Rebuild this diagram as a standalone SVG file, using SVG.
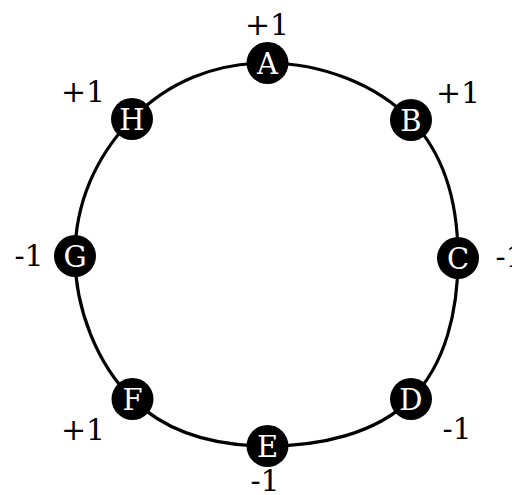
<svg xmlns="http://www.w3.org/2000/svg" width="512" height="495" viewBox="0 0 512 495">
<style>
.ring{fill:none;stroke:#000;stroke-width:3.2}
.node circle{fill:#000}
.node text{fill:#fff;font-family:"DejaVu Serif",serif;font-size:29px;text-anchor:middle}
.lbl{fill:#000;font-family:"DejaVu Serif",serif;font-size:30px;text-anchor:middle}
</style>
<rect width="512" height="495" fill="#fff"/>
<g id="connectors">
<path class="ring" d="M267.5,63 C321,63.2 376,84 411,120 C446,156 458,206 458,258 C458,310 446,364 411,399 C376,434 320,446 267.5,446 C215,446 168,434 132.5,399 C97,364 75.1,308.5 75,256 C74.9,203.5 96,156 132,119 C168,82 215,62.8 267.5,63 Z"/>
</g>
<g id="A" class="node"><circle cx="267.5" cy="63" r="21"/><text x="267.5" y="74">A</text></g>
<g id="B" class="node"><circle cx="411" cy="120" r="21"/><text x="411" y="131">B</text></g>
<g id="C" class="node"><circle cx="458" cy="258" r="21"/><text x="458" y="269">C</text></g>
<g id="D" class="node"><circle cx="411" cy="399" r="21"/><text x="411" y="410">D</text></g>
<g id="E" class="node"><circle cx="267.5" cy="446" r="21"/><text x="267.5" y="457">E</text></g>
<g id="F" class="node"><circle cx="132.5" cy="399" r="21"/><text x="132.5" y="410">F</text></g>
<g id="G" class="node"><circle cx="75" cy="256" r="21"/><text x="75" y="267">G</text></g>
<g id="H" class="node"><circle cx="132" cy="119" r="21"/><text x="132" y="130">H</text></g>
<g id="labels">
<text class="lbl" x="267" y="35">+1</text>
<text class="lbl" x="458" y="103">+1</text>
<text class="lbl" x="510" y="267">-1</text>
<text class="lbl" x="457" y="439">-1</text>
<text class="lbl" x="265" y="491">-1</text>
<text class="lbl" x="83" y="440">+1</text>
<text class="lbl" x="29" y="266">-1</text>
<text class="lbl" x="83" y="102">+1</text>
</g>
</svg>
